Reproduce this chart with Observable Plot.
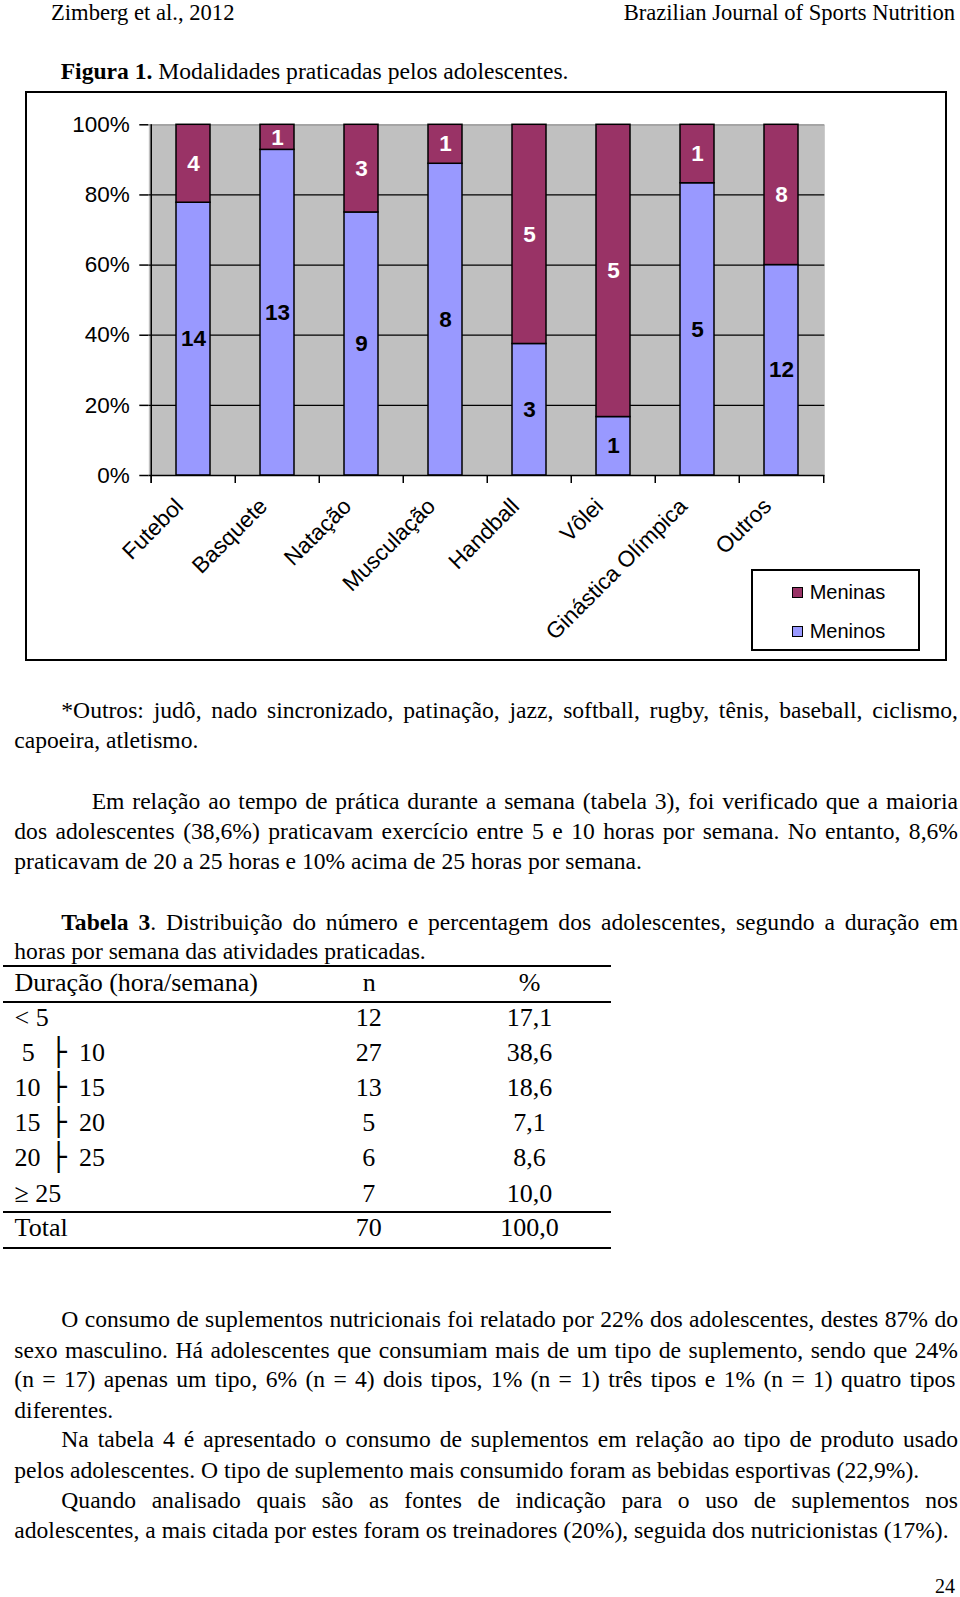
<!DOCTYPE html>
<html>
<head>
<meta charset="utf-8">
<script src="https://cdn.jsdelivr.net/npm/d3@7"></script>
<script src="https://cdn.jsdelivr.net/npm/@observablehq/plot@0.6"></script>
<style>
  html, body { margin: 0; padding: 0; background: #fff; }
  #page { position: relative; width: 960px; height: 1597px; overflow: hidden; background: #fff;
          font-family: "Liberation Serif", "Times New Roman", serif; color: #000; }
  .ln { position: absolute; font-size: 23.6px; line-height: 30px; white-space: nowrap; }
  .ln span { white-space: nowrap; }
  .rule { position: absolute; left: 3px; width: 608px; height: 2px; background: #000; }
  #frame { position: absolute; left: 25px; top: 91px; width: 922px; height: 570px; box-sizing: border-box;
           border: 2px solid #000; }
  #frame svg { position: absolute; left: 0; top: 0; }
  #legend { position: absolute; left: 723.7px; top: 476px; width: 169px; height: 82px; box-sizing: border-box;
            border: 2px solid #000; background: #fff; font-family: "Liberation Sans", Arial, sans-serif; font-size: 20px; }
  .lg { position: absolute; left: 0; height: 24px; line-height: 24px; }
  .sw { position: absolute; left: 39px; top: 6.5px; width: 11px; height: 11px; box-sizing: border-box; border: 1px solid #000; }
  .lt { position: absolute; left: 57px; top: 0; white-space: nowrap; }
</style>
</head>
<body>
<div id="page">
  <div id="frame"><div id="legend"></div></div>
</div>
<script>
// ---------------- chart data ----------------
const categories = ["Futebol", "Basquete", "Natação", "Musculação", "Handball", "Vôlei", "Ginástica Olímpica", "Outros"];
const meninos = [14, 13, 9, 8, 3, 1, 5, 12];
const meninas = [4, 1, 3, 1, 5, 5, 1, 8];
const series = ["Meninas", "Meninos"];
const seriesColors = ["#993366", "#9999ff"];
const yTicks = [0, 0.2, 0.4, 0.6, 0.8, 1];

// ---------------- table data ----------------
const tableHead = ["Duração (hora/semana)", "n", "%"];
const durLeft = ["< 5", "5", "10", "15", "20", "≥ 25"];
const durRight = ["", "10", "15", "20", "25", ""];
const tableN = ["12", "27", "13", "5", "6", "7"];
const tablePct = ["17,1", "38,6", "18,6", "7,1", "8,6", "10,0"];
const totalRow = ["Total", "70", "100,0"];

// ---------------- page text ----------------
const headerLeft = "Zimberg et al., 2012";
const headerRight = "Brazilian Journal of Sports Nutrition";
const figTitle = ["Figura 1.", " Modalidades praticadas pelos adolescentes."];
const paraOutros = [
  "*Outros: judô, nado sincronizado, patinação, jazz, softball, rugby, tênis, baseball, ciclismo,",
  "capoeira, atletismo."
];
const paraTempo = [
  "Em relação ao tempo de prática durante a semana (tabela 3), foi verificado que a maioria",
  "dos adolescentes (38,6%) praticavam exercício entre 5 e 10 horas por semana. No entanto, 8,6%",
  "praticavam de 20 a 25 horas e 10% acima de 25 horas por semana."
];
const tableCaption = [
  ["Tabela 3", ". Distribuição do número e percentagem dos adolescentes, segundo a duração em"],
  "horas por semana das atividades praticadas."
];
const paraSupl = [
  "O consumo de suplementos nutricionais foi relatado por 22% dos adolescentes, destes 87% do",
  "sexo masculino. Há adolescentes que consumiam mais de um tipo de suplemento, sendo que 24%",
  "(n = 17) apenas um tipo, 6% (n = 4) dois tipos, 1% (n = 1)  três tipos e 1% (n = 1) quatro tipos",
  "diferentes.",
  "Na tabela 4 é apresentado o consumo de suplementos em relação ao tipo de produto usado",
  "pelos adolescentes. O tipo de suplemento mais consumido foram as bebidas esportivas (22,9%).",
  "Quando analisado quais são as fontes de indicação para o uso de suplementos nos",
  "adolescentes, a mais citada por estes foram os treinadores (20%), seguida dos nutricionistas (17%)."
];
const pageNumber = "24";

// ---------------- build chart ----------------
const data = categories.flatMap((c, i) => [
  {cat: c, sex: "Meninos", n: meninos[i]},
  {cat: c, sex: "Meninas", n: meninas[i]}
]);
const stackOrder = ["Meninos", "Meninas"];

const W = 918, H = 566, mL = 121.3, mR = 120.7, mT = 31.3, mB = 184;
const half = (W - mL - mR) / categories.length / 2;

const chart = Plot.plot({
  width: W, height: H,
  marginLeft: mL, marginRight: mR, marginTop: mT, marginBottom: mB,
  style: {background: "transparent", fontFamily: "'Liberation Sans', Arial, sans-serif", fontSize: "22px", color: "#000", overflow: "visible"},
  x: {domain: categories, paddingInner: 0.6, paddingOuter: 0.3, label: null},
  y: {domain: [0, 1], label: null},
  color: {domain: series, range: seriesColors},
  marks: [
    Plot.frame({fill: "#c0c0c0", stroke: null}),
    Plot.ruleY(yTicks.filter(v => v > 0 && v < 1), {stroke: "#000", strokeWidth: 1.3}),
    Plot.ruleY([1], {stroke: "#8a8a8a", strokeWidth: 1.3}),
    Plot.barY(data, {x: "cat", y: "n", fill: "sex", z: "sex", offset: "normalize", order: stackOrder, stroke: "#000", strokeWidth: 1.5}),
    Plot.text(data, Plot.stackY({x: "cat", y: "n", z: "sex", offset: "normalize", order: stackOrder,
      text: d => d.sex === "Meninas" ? String(d.n) : "", fill: "#fff", fontWeight: "bold", fontSize: 22.5})),
    Plot.text(data, Plot.stackY({x: "cat", y: "n", z: "sex", offset: "normalize", order: stackOrder,
      text: d => d.sex === "Meninos" ? String(d.n) : "", fill: "#000", fontWeight: "bold", fontSize: 22.5})),
    Plot.axisY({ticks: yTicks, tickFormat: d3.format(".0%"), tickSize: 9, tickPadding: 10, strokeWidth: 1.5, label: null, fontSize: 22.5}),
    Plot.ruleY([0], {stroke: "#000", strokeWidth: 1.5}),
    Plot.ruleX([categories[0]], {x: d => d, dx: -half, stroke: "#000", strokeWidth: 1.5, insetBottom: -8}),
    Plot.ruleX(categories, {x: d => d, dx: -half, y1: 0, y2: 0, insetBottom: -8, stroke: "#000", strokeWidth: 1.5}),
    Plot.ruleX([categories[categories.length - 1]], {x: d => d, dx: half, y1: 0, y2: 0, insetBottom: -8, stroke: "#000", strokeWidth: 1.5}),
    Plot.axisX({tickSize: 0, tickPadding: 27, dx: -14, tickRotate: -45, label: null, fontSize: 22.5})
  ]
});
document.getElementById("frame").insertBefore(chart, document.getElementById("legend"));

// legend
const legend = document.getElementById("legend");
series.forEach((s, i) => {
  const row = document.createElement("div");
  row.className = "lg";
  row.style.top = (9 + i * 39.3) + "px";
  row.style.width = "100%";
  const sw = document.createElement("div");
  sw.className = "sw";
  sw.style.background = seriesColors[i];
  const t = document.createElement("div");
  t.className = "lt";
  t.textContent = s;
  row.appendChild(sw); row.appendChild(t);
  legend.appendChild(row);
});

// ---------------- text layout helpers ----------------
const page = document.getElementById("page");
function addLine(content, x, top, opts = {}) {
  const d = document.createElement("div");
  d.className = "ln";
  d.style.left = x + "px";
  d.style.top = top + "px";
  if (opts.fontSize) d.style.fontSize = opts.fontSize + "px";
  if (opts.lineHeight) d.style.lineHeight = opts.lineHeight + "px";
  const s = document.createElement("span");
  if (Array.isArray(content)) {
    const b = document.createElement("b");
    b.textContent = content[0];
    s.appendChild(b);
    s.appendChild(document.createTextNode(content[1]));
  } else {
    s.textContent = content;
  }
  d.appendChild(s);
  page.appendChild(d);
  if (opts.right != null) {
    const w = s.getBoundingClientRect().width;
    d.style.left = (opts.right - w) + "px";
  }
  if (opts.justifyTo != null) {
    const w = s.getBoundingClientRect().width;
    const txt = s.textContent;
    const nSpaces = (txt.match(/ /g) || []).length;
    if (nSpaces > 0) s.style.wordSpacing = ((opts.justifyTo - x - w) / nSpaces) + "px";
  }
  if (opts.center != null) {
    const w = s.getBoundingClientRect().width;
    d.style.left = (opts.center - w / 2) + "px";
  }
  return d;
}
function addRule(y) {
  const r = document.createElement("div");
  r.className = "rule";
  r.style.top = (y - 1) + "px";
  page.appendChild(r);
}
const L = 14.3, R = 958, IND = 61.3, off = 16;
const TF = 26; // table font size

addLine(headerLeft, 51, 2.8, {fontSize: 22.6, lineHeight: 20});
addLine(headerRight, 0, 2.8, {fontSize: 22.6, lineHeight: 20, right: 955});
addLine(figTitle, 60.7, 56);

addLine(paraOutros[0], IND, 711 - off, {justifyTo: R});
addLine(paraOutros[1], L, 740.5 - off);

addLine(paraTempo[0], 91.7, 801.5 - off, {justifyTo: R});
addLine(paraTempo[1], L, 832 - off, {justifyTo: R});
addLine(paraTempo[2], L, 861.7 - off);

addLine(tableCaption[0], IND, 922.8 - off, {justifyTo: R});
addLine(tableCaption[1], L, 952.3 - off);

const toff = 17;
addRule(965.5);
addLine(tableHead[0], 14.6, 985 - toff, {fontSize: TF});
addLine(tableHead[1], 0, 985 - toff, {fontSize: TF, center: 369.3});
addLine(tableHead[2], 0, 985 - toff, {fontSize: TF, center: 529.6});
addRule(1002);
const rowY = [1019.5, 1055, 1089.8, 1125.4, 1160, 1195.7];
durLeft.forEach((d, i) => {
  const y = rowY[i] - toff;
  if (durRight[i]) {
    addLine(d, d.length === 1 ? 21.7 : 14.6, y, {fontSize: TF});
    const bar = addLine("├", 50.5, y - 1, {fontSize: 27});
    bar.style.fontFamily = "'DejaVu Sans', sans-serif";
    addLine(durRight[i], 79, y, {fontSize: TF});
  } else {
    addLine(d, 14.6, y, {fontSize: TF});
  }
  addLine(tableN[i], 0, y, {fontSize: TF, center: 368.8});
  addLine(tablePct[i], 0, y, {fontSize: TF, center: 529.5});
});
addRule(1212);
addLine(totalRow[0], 14.6, 1230 - toff, {fontSize: TF});
addLine(totalRow[1], 0, 1230 - toff, {fontSize: TF, center: 368.8});
addLine(totalRow[2], 0, 1230 - toff, {fontSize: TF, center: 529.5});
addRule(1247.7);

const suplY = [1320, 1350.5, 1380, 1410.6, 1440, 1470.7, 1501, 1530.8];
const suplJust = [true, true, true, false, true, false, true, false];
const suplInd = [true, false, false, false, true, false, true, false];
paraSupl.forEach((t, i) => {
  const x = suplInd[i] ? IND : L;
  addLine(t, x, suplY[i] - off, suplJust[i] ? {justifyTo: R} : {});
});

addLine(pageNumber, 0, 1571, {fontSize: 20, right: 955});
</script>
</body>
</html>
